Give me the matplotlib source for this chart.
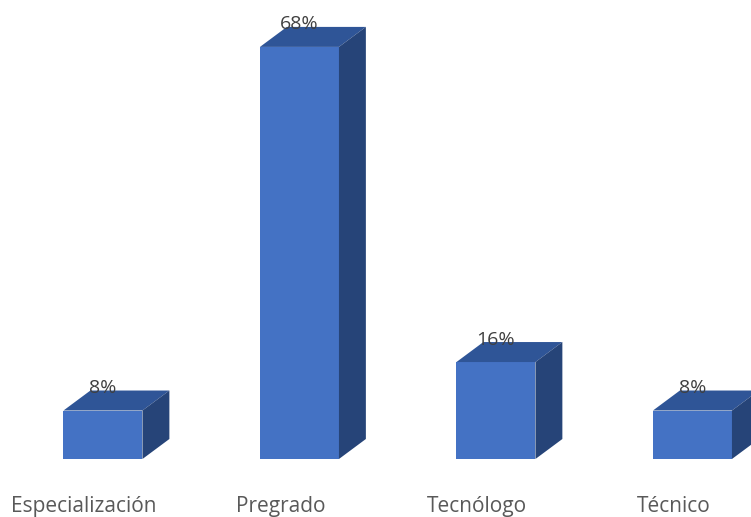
import matplotlib.pyplot as plt
from matplotlib.patches import Polygon

categorias = ['Especialización', 'Pregrado', 'Tecnólogo', 'Técnico']
porcentajes = [8, 68, 16, 8]
etiquetas = ['8%', '68%', '16%', '8%']

frente = '#4472C4'
arriba = '#2F5597'
lado = '#264478'

fig = plt.figure(figsize=(7.51, 5.17), dpi=100)
ax = fig.add_axes([0, 0, 1, 1])
ax.set_xlim(-0.524, 3.298)
ax.set_ylim(-9.57, 75.74)
ax.axis('off')

ancho = 0.402
dx = 0.137   # profundidad en x
dy = 3.3     # profundidad en y

x = list(range(len(categorias)))
ax.bar(x, porcentajes, width=ancho, color=frente, zorder=2)

for i, h in zip(x, porcentajes):
    x0 = i - ancho / 2
    x1 = i + ancho / 2
    ax.add_patch(Polygon([(x0, h), (x1, h), (x1 + dx, h + dy), (x0 + dx, h + dy)],
                         closed=True, facecolor=arriba, edgecolor='none', zorder=2))
    ax.add_patch(Polygon([(x1, 0), (x1 + dx, dy), (x1 + dx, h + dy), (x1, h)],
                         closed=True, facecolor=lado, edgecolor='none', zorder=2))

for i, h, t in zip(x, porcentajes, etiquetas):
    ax.text(i, h + 3.7, t, ha='center', va='center', fontsize=14,
            color='#404040', family='Open Sans', zorder=3)

for i, c in zip(x, categorias):
    ax.text(i - 0.097, -7.9, c, ha='center', va='center', fontsize=15,
            color='#595959', family='Open Sans')

fig.savefig('out.png', dpi=100)
